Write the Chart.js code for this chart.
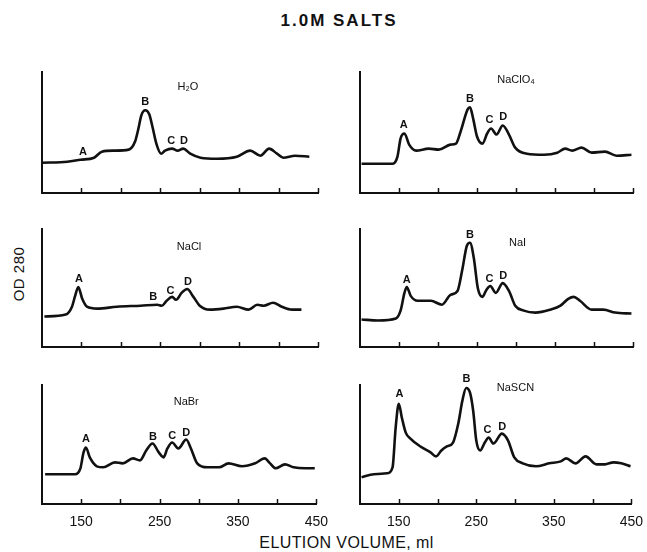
<!DOCTYPE html>
<html>
<head>
<meta charset="utf-8">
<script src="https://cdn.jsdelivr.net/npm/chart.js@4.4.1/dist/chart.umd.min.js"></script>
<style>
  html, body { margin: 0; padding: 0; background: #fff; }
  #wrap { position: relative; width: 647px; height: 552px; background: #fff; overflow: hidden; font-family: "Liberation Sans", Arial, sans-serif; }
  canvas { position: absolute; }
  .txt { position: absolute; color: #111; white-space: nowrap; }
  #title { left: 0; width: 678px; top: 11px; text-align: center; font-size: 17px; font-weight: 600; letter-spacing: 2px; }
  #xtitle { left: 0; width: 693px; top: 534px; text-align: center; font-size: 16px; letter-spacing: 0.4px; }
  #ytitle { left: 18px; top: 274px; font-size: 15px; transform: translate(-50%, -50%) rotate(-90deg); letter-spacing: 0.5px; }
</style>
</head>
<body>
<div id="wrap">
  <div id="title" class="txt">1.0M SALTS</div>
  <div id="xtitle" class="txt">ELUTION VOLUME, ml</div>
  <div id="ytitle" class="txt">OD 280</div>
</div>
<script>
// ---------- DATA (elution volume in ml, OD280 in arbitrary units) ----------
const tickMarks  = [150, 200, 250, 300, 350, 400, 450];
const tickLabels = [150, 250, 350, 450];

const h2oVol = [100,132,149,166,176,191,210,218,222,226,231,236,240,245,251,256,265,272,279,288,301,322,347,364,377,388,398,406,421,439];
const h2oOD  = [30,31,33,35,41,42,43,51,63,77,82,78,66,49,39,42,44,42,44,39,35,34,36,42,37,44,39,35,37,36];

const naclo4Vol = [102,142,148,152,157,163,172,188,201,216,223,229,238,241,245,250,257,263,268,275,283,291,299,314,336,353,363,372,384,397,414,429,448];
const naclo4OD  = [29,29,36,54,59,48,42,44,43,48,49,61,83,85,74,56,49,59,64,58,67,58,45,39,38,40,44,42,45,40,41,37,38];

const naclVol = [103,130,138,142,146,151,157,170,195,225,246,252,258,265,270,277,284,292,300,313,330,347,362,373,381,393,404,417,429];
const naclOD  = [31,33,41,52,61,49,41,39,41,42,43,42,47,51,48,55,59,51,42,38,39,41,38,43,42,45,41,38,38];

const naiVol = [102,123,146,152,157,160,165,174,191,205,216,225,231,237,241,246,251,257,262,267,274,283,291,299,310,325,344,357,367,374,382,397,412,427,448];
const naiOD  = [28,27,29,37,55,61,52,47,47,43,53,57,78,103,106,90,60,51,58,62,55,65,57,42,37,35,38,42,49,51,47,38,38,35,34];

const nabrVol = [104,142,149,153,156,161,170,178,193,203,216,225,233,241,249,255,260,266,274,284,290,298,311,326,338,355,372,384,391,398,410,421,436,448];
const nabrOD  = [30,30,36,52,57,47,38,37,42,41,46,44,54,61,52,47,56,62,56,65,56,41,37,37,41,38,41,46,41,36,40,37,36,36];

const nascnVol = [102,118,135,142,146,150,154,159,165,178,191,198,205,212,220,227,232,237,242,246,250,255,261,266,272,283,291,299,310,327,344,359,366,378,391,405,416,427,437,449];
const nascnOD  = [27,30,31,37,77,101,87,72,66,58,52,48,54,58,62,82,104,117,112,94,64,54,62,67,61,71,64,47,41,38,41,43,46,41,48,40,40,42,41,38];

// peak letters: [letter, volume, OD]
const h2oPeaks    = [['A',152,41],['B',231,90],['C',264,52],['D',280,52]];
const naclo4Peaks = [['A',156,67],['B',241,93],['C',266,72],['D',283.5,75]];
const naclPeaks   = [['A',147,69],['B',241,51],['C',263,57],['D',285,66]];
const naiPeaks    = [['A',160,68],['B',241,114],['C',266,69],['D',283.5,72]];
const nabrPeaks   = [['A',156,66],['B',241.5,68],['C',266,69],['D',284,72]];
const nascnPeaks  = [['A',151,111],['B',237.5,126],['C',264.5,75],['D',283.5,78]];

// ---------- LAYOUT ----------
const cols = [{L: 42, R: 318}, {L: 360, R: 633}];
const rows = [{T: 72, B: 193}, {T: 229, B: 347}, {T: 385, B: 504}];

const panels = [
  {name: 'H₂O',    vol: h2oVol,    od: h2oOD,    peaks: h2oPeaks,    nameAt: [285, 105],   col: 0, row: 0},
  {name: 'NaClO₄', vol: naclo4Vol, od: naclo4OD, peaks: naclo4Peaks, nameAt: [300, 112],   col: 1, row: 0},
  {name: 'NaCl',   vol: naclVol,   od: naclOD,   peaks: naclPeaks,   nameAt: [286.5, 102], col: 0, row: 1},
  {name: 'NaI',    vol: naiVol,    od: naiOD,    peaks: naiPeaks,    nameAt: [302, 106],   col: 1, row: 1},
  {name: 'NaBr',   vol: nabrVol,   od: nabrOD,   peaks: nabrPeaks,   nameAt: [284, 103],   col: 0, row: 2},
  {name: 'NaSCN',  vol: nascnVol,  od: nascnOD,  peaks: nascnPeaks,  nameAt: [300.5, 117], col: 1, row: 2}
];

const FONT = '"Liberation Sans", Arial, sans-serif';
const PAD = 20, PADT = 25;

const annotPlugin = {
  id: 'annot',
  afterDraw(chart) {
    const p = chart.options.plugins.annot;
    const ctx = chart.ctx, x = chart.scales.x, y = chart.scales.y;
    const bottom = chart.chartArea.bottom;
    ctx.save();
    ctx.strokeStyle = '#111';
    ctx.lineWidth = 1.5;
    tickMarks.forEach(v => {
      const px = Math.round(x.getPixelForValue(v)) + 0.5;
      ctx.beginPath(); ctx.moveTo(px, bottom); ctx.lineTo(px, bottom - 5); ctx.stroke();
    });
    ctx.fillStyle = '#111';
    ctx.textAlign = 'center';
    ctx.textBaseline = 'middle';
    ctx.font = 'bold 11px ' + FONT;
    p.peaks.forEach(([t, v, o]) => ctx.fillText(t, x.getPixelForValue(v), y.getPixelForValue(o)));
    ctx.font = '11px ' + FONT;
    ctx.fillText(p.name, x.getPixelForValue(p.nameAt[0]), y.getPixelForValue(p.nameAt[1]));
    ctx.restore();
  }
};

const wrap = document.getElementById('wrap');
panels.forEach(pn => {
  const c = cols[pn.col], r = rows[pn.row];
  const isBottom = pn.row === 2;
  const extraB = isBottom ? 32 : 8;
  const cv = document.createElement('canvas');
  const w = c.R - c.L + 2 * PAD, h = r.B - r.T + PADT + extraB;
  cv.width = w; cv.height = h;
  cv.style.left = (c.L - PAD) + 'px';
  cv.style.top = (r.T - PADT) + 'px';
  cv.style.width = w + 'px'; cv.style.height = h + 'px';
  wrap.appendChild(cv);

  new Chart(cv, {
    type: 'line',
    data: {
      datasets: [{
        data: pn.vol.map((v, i) => ({x: v, y: pn.od[i]})),
        borderColor: '#111',
        borderWidth: 2.6,
        pointRadius: 0,
        fill: false,
        cubicInterpolationMode: 'monotone'
      }]
    },
    options: {
      responsive: false,
      animation: false,
      devicePixelRatio: 1,
      layout: {padding: {left: PAD, right: PAD, top: PADT, bottom: isBottom ? 0 : 8}},
      plugins: {
        legend: {display: false},
        tooltip: {enabled: false},
        annot: {name: pn.name, peaks: pn.peaks, nameAt: pn.nameAt}
      },
      scales: {
        x: {
          type: 'linear', min: 100, max: 450,
          grid: {display: false, drawTicks: false},
          border: {display: true, color: '#111', width: 2},
          ticks: {
            display: isBottom, stepSize: 50, autoSkip: false, maxRotation: 0,
            padding: 10, color: '#111',
            font: {family: FONT, size: 14},
            callback: v => tickLabels.includes(v) ? String(v) : ''
          },
          afterFit: s => { s.height = isBottom ? 32 : 0; }
        },
        y: {
          type: 'linear', min: 0, max: 120,
          grid: {display: false, drawTicks: false},
          border: {display: true, color: '#111', width: 2},
          ticks: {display: false},
          afterFit: s => { s.width = 0; }
        }
      }
    },
    plugins: [annotPlugin]
  });
});
</script>
</body>
</html>
